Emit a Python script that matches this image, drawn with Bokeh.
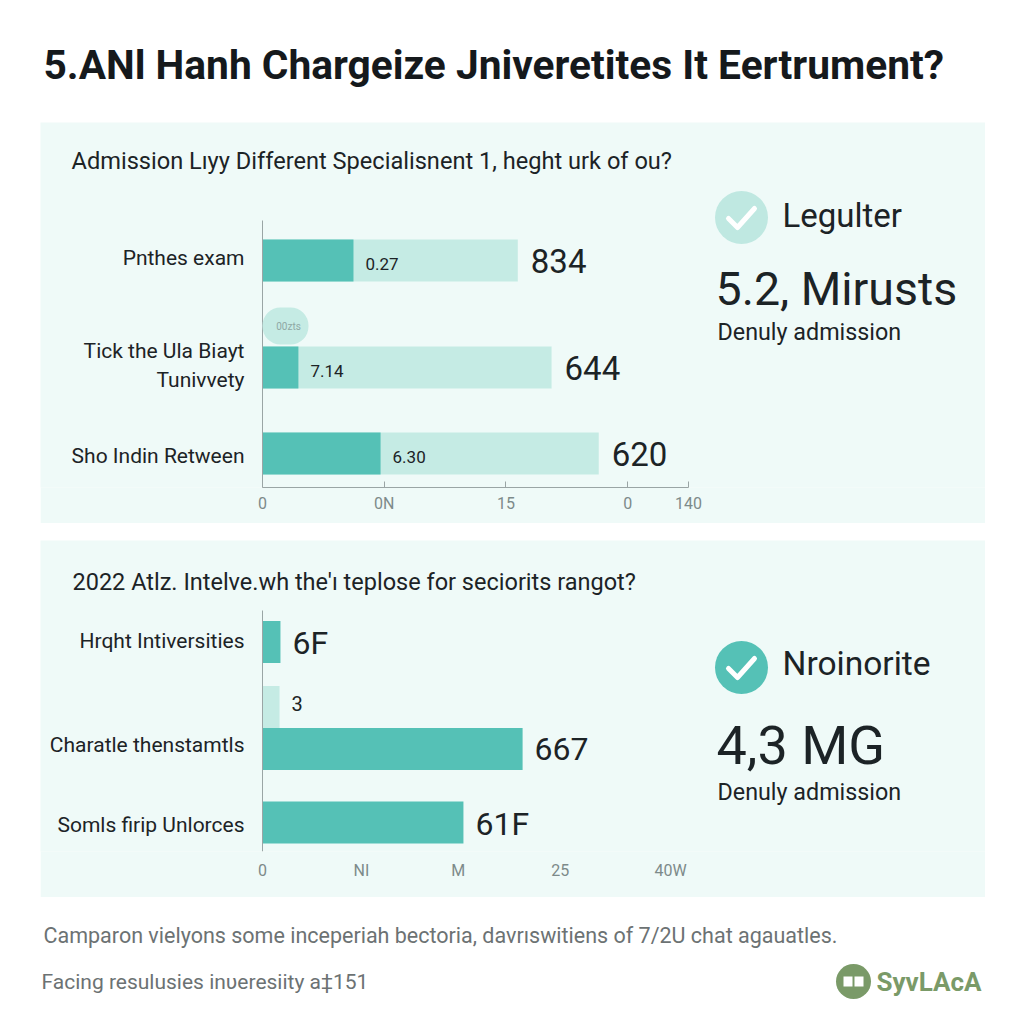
from bokeh.plotting import figure
from bokeh.layouts import column, row
from bokeh.models import Spacer, Range1d, FixedTicker, Label, BoxAnnotation
from bokeh.embed import file_html
from bokeh.resources import INLINE

FONT = "Roboto"
INK = "#1c2326"
GREY_TICK = "#7d8a8a"
PANEL = "#effaf8"
TEAL = "#55c1b6"
MINT = "#c5ebe4"
GREEN = "#7a9a68"

title_text = "5.ANl Hanh Chargeize Jniveretites It Eertrument?"

# upper panel
p1_title = "Admission L\u0131\u0443y Different Specialisnent 1, heght urk of ou?"
p1_categories = ["Pnthes exam", "Tick the Ula Biayt\nTunivvety", "Sho Indin Retween"]
p1_total = [83.9, 95.0, 110.5]
p1_dark = [29.9, 11.8, 38.8]
p1_inner_labels = ["0.27", "7.14", "6.30"]
p1_value_labels = ["834", "644", "620"]
p1_ticks = [0, 40, 80, 120, 140]
p1_tick_labels = ["0", "0N", "15", "0", "140"]

# lower panel
p2_title = "2022 Atlz. Intelve.wh the'\u0131 teplose for seciorits rangot?"
p2_categories = ["Hrqht Intiversities", "Charatle thenstamtls", "Somls firip Unlorces"]
p2_values = [17.6, 16.7, 255.0, 197.0]
p2_value_labels = ["6F", "3", "667", "61F"]
p2_ticks = [0, 97, 192, 292, 400]
p2_tick_labels = ["0", "NI", "M", "25", "40W"]

footer_1 = "Camparon vielyons some inceperiah bectoria, davr\u0131switiens of 7/2U chat agauatles."
footer_2 = "Facing resulusies in\u03c5eresiity a\u2021151"
logo_text = "SyvLAcA"

PANEL_LEFT, PANEL_RIGHT, AXIS_X = 40, 985, 262
P1_TOP, P1_BOTTOM, P1_AXIS = 122, 523, 487
P2_TOP, P2_BOTTOM, P2_AXIS = 540, 897, 851
P1_SCALE = 426 / 140
P2_SCALE = 408 / 400


def make_panel(top, bottom, axis_y, scale, ticks, tick_labels, cat_pos, cats, standoff, line_top):
    p = figure(width=PANEL_RIGHT - PANEL_LEFT, height=bottom - top, output_backend="svg",
               toolbar_location=None, min_border_left=0, min_border_right=0,
               min_border_top=0, min_border_bottom=bottom - axis_y,
               x_range=Range1d((PANEL_LEFT - AXIS_X) / scale, (PANEL_RIGHT - AXIS_X) / scale),
               y_range=Range1d(axis_y - top, 0))
    p.background_fill_color = PANEL
    p.border_fill_color = PANEL
    p.outline_line_color = None
    p.grid.visible = False
    xa, ya = p.xaxis[0], p.yaxis[0]
    xa.ticker = FixedTicker(ticks=ticks)
    xa.major_label_overrides = dict(zip(ticks, tick_labels))
    xa.bounds = (ticks[0], ticks[-1])
    xa.minor_tick_line_color = None
    xa.major_tick_in, xa.major_tick_out = 6, 0
    xa.major_label_standoff = standoff
    xa.major_label_text_font = FONT
    xa.major_label_text_font_size = "16px"
    xa.major_label_text_color = GREY_TICK
    xa.major_tick_line_color = "#9aa5a5"
    xa.axis_line_color = "#9aa5a5"
    ypos = [y - top for y in cat_pos]
    ya.fixed_location = 0
    ya.ticker = FixedTicker(ticks=ypos)
    ya.major_label_overrides = dict(zip(ypos, cats))
    ya.bounds = (line_top - top, axis_y - top)
    ya.minor_tick_line_color = None
    ya.major_tick_line_color = None
    ya.major_tick_in, ya.major_tick_out = 0, 0
    ya.major_label_standoff = 18
    ya.major_label_text_font = FONT
    ya.major_label_text_font_size = "21px"
    ya.major_label_text_color = INK
    ya.axis_line_color = "#9aa5a5"
    return p


def add_label(p, top, scale, x, y, text, size, color=INK, style="normal", align="left"):
    p.add_layout(Label(x=(x - AXIS_X) / scale, y=y - top, text=text, text_font=FONT,
                       text_font_size=f"{size}px", text_color=color, text_font_style=style,
                       text_align=align, text_baseline="middle"))


def add_badge(p, top, scale, cx, cy, color):
    p.scatter([(cx - AXIS_X) / scale], [cy - top], marker="circle", size=53,
              fill_color=color, line_color=None)
    dx, dy = [-13, -4, 13], [1, 10, -9]
    p.line([(cx + d - AXIS_X) / scale for d in dx], [cy + d - top for d in dy],
           line_color="white", line_width=5, line_cap="round", line_join="round")


# ---------- upper panel
p1_bar_y = [260, 367, 453]
p1 = make_panel(P1_TOP, P1_BOTTOM, P1_AXIS, P1_SCALE, p1_ticks, p1_tick_labels,
                [257, 365, 455], p1_categories, 6, 220)
by = [y - P1_TOP for y in p1_bar_y]
p1.hbar(y=by, left=0, right=p1_total, height=42, fill_color=MINT, line_color=None)
p1.hbar(y=by, left=0, right=p1_dark, height=42, fill_color=TEAL, line_color=None)
p1.add_layout(BoxAnnotation(left=0, right=46 / P1_SCALE, top=307 - P1_TOP, bottom=344 - P1_TOP,
                            fill_color=MINT, fill_alpha=1, line_color=None, border_radius=18))
add_label(p1, P1_TOP, P1_SCALE, 288, 326, "00zts", 10, "#8fa8a5", align="center")
for i, yc in enumerate(p1_bar_y):
    add_label(p1, P1_TOP, P1_SCALE, AXIS_X + p1_dark[i] * P1_SCALE + 12, yc + 3, p1_inner_labels[i], 17)
    add_label(p1, P1_TOP, P1_SCALE, AXIS_X + p1_total[i] * P1_SCALE + 13, yc, p1_value_labels[i], 33)
add_label(p1, P1_TOP, P1_SCALE, 71, 160, p1_title, 23.6)
add_badge(p1, P1_TOP, P1_SCALE, 741, 217, "#bfe8e1")
add_label(p1, P1_TOP, P1_SCALE, 782, 215, "Legulter", 33)
add_label(p1, P1_TOP, P1_SCALE, 715, 288, "5.2, Mirusts", 46.5)
add_label(p1, P1_TOP, P1_SCALE, 717, 331, "Denuly admission", 23.3)

# ---------- lower panel
p2_bar_y = [641.5, 706.5, 748.5, 822]
p2 = make_panel(P2_TOP, P2_BOTTOM, P2_AXIS, P2_SCALE, p2_ticks, p2_tick_labels,
                [640, 744, 824], p2_categories, 9, 610)
p2.xaxis[0].axis_line_color = None
p2.xaxis[0].major_tick_line_color = None
by2 = [y - P2_TOP for y in p2_bar_y]
p2_colors = [TEAL, MINT, TEAL, TEAL]
p2.hbar(y=by2, left=0, right=p2_values, height=42, fill_color=p2_colors, line_color=None)
p2_sizes = [32, 20, 32, 32]
p2_label_dy = [1, -4, 0, 1]
for i, yc in enumerate(p2_bar_y):
    add_label(p2, P2_TOP, P2_SCALE, AXIS_X + p2_values[i] * P2_SCALE + 12, yc + p2_label_dy[i],
              p2_value_labels[i], p2_sizes[i])
add_label(p2, P2_TOP, P2_SCALE, 72, 581, p2_title, 23.5)
add_badge(p2, P2_TOP, P2_SCALE, 741, 667, TEAL)
add_label(p2, P2_TOP, P2_SCALE, 782, 663, "Nroinorite", 33.5)
add_label(p2, P2_TOP, P2_SCALE, 716, 745, "4,3 MG", 54)
add_label(p2, P2_TOP, P2_SCALE, 717, 791, "Denuly admission", 23.3)

# ---------- header and footer
header = figure(width=1016, height=122, output_backend="svg", toolbar_location=None,
                x_range=Range1d(0, 1016), y_range=Range1d(122, 0), min_border=0)
header.axis.visible = False
header.grid.visible = False
header.outline_line_color = None
header.add_layout(Label(x=43, y=64, text=title_text, text_font=FONT, text_font_size="40.7px",
                        text_font_style="bold", text_color="#15191c", text_baseline="middle"))

footer = figure(width=1016, height=119, output_backend="svg", toolbar_location=None,
                x_range=Range1d(0, 1016), y_range=Range1d(1016, 897), min_border=0)
footer.axis.visible = False
footer.grid.visible = False
footer.outline_line_color = None
for x, y, t, s in [(43, 935, footer_1, 21.5), (41, 981, footer_2, 21)]:
    footer.add_layout(Label(x=x, y=y, text=t, text_font=FONT, text_font_size=f"{s}px",
                            text_color="#6c7273", text_baseline="middle"))
footer.scatter([853], [981], marker="circle", size=35, fill_color=GREEN, line_color=None)
footer.quad(left=[843, 854], right=[852, 863], top=[976, 976], bottom=[986, 986],
            fill_color="white", line_color=None)
footer.add_layout(Label(x=876, y=981, text=logo_text, text_font=FONT, text_font_size="26px",
                        text_font_style="bold", text_color=GREEN, text_baseline="middle"))

page = column(
    header,
    row(Spacer(width=PANEL_LEFT), p1, spacing=0),
    Spacer(height=P2_TOP - P1_BOTTOM),
    row(Spacer(width=PANEL_LEFT), p2, spacing=0),
    footer,
    spacing=0,
)
open("out.html", "w").write(file_html(page, INLINE))
